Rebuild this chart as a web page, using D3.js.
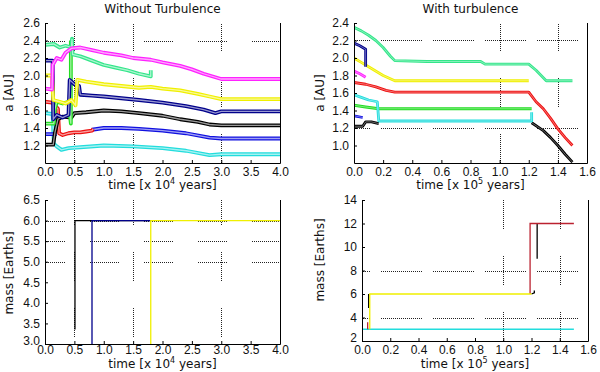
<!DOCTYPE html>
<html lang="en">
<head>
<meta charset="UTF-8">
<title>Planet migration with and without turbulence</title>
<script src="https://cdn.jsdelivr.net/npm/d3@7"></script>
<style>
    body { margin: 0; background: white; }
    svg { display: block; font-family: "DejaVu Sans", sans-serif; }
    .tick text { font-size: 12px; fill: #111; }
    .tick line { stroke: #000; }
    .title, .label { font-size: 12px; fill: #111; }
</style>
</head>
<body>
<svg id="chart" width="600" height="372"></svg>
<script>
// tick values
const timeTicksLeft = [0, 0.5, 1.0, 1.5, 2.0, 2.5, 3.0, 3.5, 4.0]
const timeTicksRight = [0, 0.2, 0.4, 0.6, 0.8, 1.0, 1.2, 1.4, 1.6]
const aTicksLeft = [1.2, 1.4, 1.6, 1.8, 2.0, 2.2, 2.4, 2.6]
const aTicksRight = [1.0, 1.2, 1.4, 1.6, 1.8, 2.0, 2.2, 2.4]
const massTicksLeft = [3.0, 3.5, 4.0, 4.5, 5.0, 5.5, 6.0, 6.5]
const massTicksRight = [2, 4, 6, 8, 10, 12, 14]

// semi-major axis, [time, a], no turbulence (null = gap)
const ntMagenta = [[0,1.85],[0.12,1.84],[0.13,2.12],[0.2,2.2],[0.28,2.18],[0.35,2.26],[0.45,2.31],[0.6,2.32],[0.8,2.29],[1.0,2.26],[1.3,2.23],[1.5,2.2],[1.8,2.18],[2.0,2.15],[2.3,2.11],[2.5,2.07],[2.7,2.02],[2.9,1.98],[3.0,1.96],[4.0,1.96]]
const ntSpring = [[0,2.35],[0.15,2.36],[0.25,2.32],[0.35,2.34],[0.45,2.32],[0.46,2.42],[0.47,2.24],[0.6,2.22],[0.8,2.17],[1.0,2.12],[1.2,2.09],[1.4,2.06],[1.6,2.02],[1.8,1.99],[1.8,2.06]]
const ntGreen = [[0,1.45],[0.15,1.45],[0.17,1.62],[0.2,1.7],[0.3,1.68],[0.4,1.7],[0.44,1.45],[0.44,2.4]]
const ntYellow = [[0,2.0],[0.12,2.0],[0.14,1.72],[0.25,1.7],[0.35,1.68],[0.45,1.72],[0.52,1.66],[0.55,1.95],[0.7,1.93],[1.0,1.9],[1.3,1.88],[1.6,1.86],[1.8,1.87],[2.0,1.85],[2.3,1.83],[2.6,1.79],[2.8,1.76],[3.0,1.73],[4.0,1.73]]
const ntNavy = [[0,2.17],[0.13,2.17],[0.14,1.5],[0.2,1.55],[0.3,1.52],[0.4,1.55],[0.42,1.95],[0.5,1.9],[0.58,1.88],[0.6,1.78],[0.8,1.77],[1.0,1.76],[1.3,1.74],[1.6,1.72],[2.0,1.69],[2.4,1.65],[2.7,1.61],[2.9,1.57],[3.0,1.59],[4.0,1.59]]
const ntBlue = [[0,1.33],[0.2,1.33],null,[0.8,1.38],[1.0,1.4],[1.3,1.4],[1.6,1.39],[2.0,1.37],[2.4,1.34],[2.8,1.29],[3.0,1.28],[4.0,1.28]]
const ntBlack = [[0,1.21],[0.14,1.21],[0.17,1.35],[0.22,1.5],[0.3,1.53],[0.45,1.52],[0.5,1.57],[0.7,1.58],[1.0,1.6],[1.3,1.59],[1.6,1.57],[2.0,1.54],[2.3,1.5],[2.6,1.47],[2.8,1.44],[3.0,1.43],[4.0,1.43]]
const ntRed = [[0,1.7],[0.12,1.69],[0.18,1.65],[0.22,1.62],[0.24,1.34],[0.3,1.32],[0.4,1.34],[0.5,1.35],[0.6,1.35],[0.7,1.36],[0.8,1.37],[0.82,1.39]]
const ntCyan = [[0,1.57],[0.13,1.56],[0.15,1.22],[0.2,1.19],[0.28,1.15],[0.4,1.17],[0.6,1.18],[1.0,1.2],[1.5,1.19],[2.0,1.17],[2.4,1.14],[2.8,1.09],[3.0,1.1],[4.0,1.1]]

// semi-major axis, [time, a], with turbulence
const tuSpring = [[0,2.35],[0.05,2.31],[0.1,2.26],[0.15,2.2],[0.2,2.12],[0.25,2.02],[0.28,1.97],[0.5,1.96],[0.87,1.96],[0.9,1.93],[1.2,1.93],[1.25,1.86],[1.32,1.74],[1.5,1.74]]
const tuNavy = [[0,2.17],[0.04,2.14],[0.08,2.1],[0.08,1.9]]
const tuYellow = [[0,2.0],[0.05,1.95],[0.1,1.9],[0.2,1.8],[0.28,1.74],[1.2,1.74]]
const tuMagenta = [[0,1.85],[0.04,1.82],[0.08,1.78]]
const tuRed = [[0,1.72],[0.08,1.7],[0.15,1.67],[0.22,1.63],[0.28,1.61],[1.2,1.61],[1.25,1.5],[1.3,1.42],[1.35,1.31],[1.4,1.19],[1.45,1.09],[1.5,1.0]]
const tuCyan = [[0,1.58],[0.05,1.55],[0.1,1.52],[0.16,1.5],[0.17,1.28],[0.4,1.28],[1.22,1.28],[1.22,1.38]]
const tuGreen = [[0,1.46],[0.08,1.44],[0.17,1.42],[0.3,1.42],[1.22,1.42]]
const tuBlue = [[0,1.34],[0.06,1.32]]
const tuBlack = [[0,1.22],[0.06,1.22],[0.08,1.27],[0.12,1.27],[0.17,1.25],null,[1.22,1.26],[1.3,1.17],[1.35,1.09],[1.4,1.0],[1.45,0.9],[1.5,0.81]]

// planet mass, [time, mass]
const ntMassBlack = [[0.51,3.35],[0.51,6.0],[1.8,6.0]]
const ntMassNavy = [[0.8,3.0],[0.8,6.0],[1.8,6.0]]
const ntMassYellow = [[1.8,3.0],[1.8,6.0],[4.0,6.0]]
const tuMassCyan = [[0,3],[1.5,3]]
const tuMassRed = [[0.04,3.0],[0.04,3.6],null,[1.19,6.0],[1.19,12.0],[1.5,12.0]]
const tuMassBlack = [[0.047,4.8],[0.047,6.0],null,[1.2,6.0],[1.22,6.1],[1.22,6.3],null,[1.24,9.0],[1.24,12.0]]
const tuMassYellow = [[0.055,3.0],[0.055,6.0],[1.2,6.0]]

const col = {
    magenta: "#ff22ff", spring: "#33e68a", green: "#22dd22", yellow: "#f0f000",
    navy: "#00008b", blue: "#1010e0", black: "#000", red: "#ee1111",
    cyan: "#22dddd", darkred: "#bb2230"
}

const panels = [
    {
        title: "Without Turbulence", x0: 45, x1: 280, y0: 23, y1: 163,
        xDomain: [0, 4], yDomain: [1.0, 2.6], xTicks: timeTicksLeft, yTicks: aTicksLeft,
        yFmt: ".1f", ylabel: "a [AU]", exp: "4", ylabX: 13, ylabY: 93, xtBase: 176, xlBase: 189,
        vGrid: [0.5, 1.5, 3.0], hGrid: [2.4], hPat: [30, 24, 36], vPat: [30, 26, 0],
        band: 3.8, inner: 1.3, innerOp: 0.6,
        series: [
            [ntCyan, col.cyan], [ntBlue, col.blue], [ntRed, col.red], [ntBlack, col.black],
            [ntGreen, col.green], [ntNavy, col.navy], [ntYellow, col.yellow],
            [ntSpring, col.spring], [ntMagenta, col.magenta]
        ]
    },
    {
        title: "With turbulence", x0: 354, x1: 587, y0: 23, y1: 163,
        xDomain: [0, 1.6], yDomain: [0.8, 2.4], xTicks: timeTicksRight, yTicks: aTicksRight,
        yFmt: ".1f", ylabel: "a [AU]", exp: "5", ylabX: 324, ylabY: 93, xtBase: 176, xlBase: 189,
        vGrid: [1.0, 1.4], hGrid: [2.2, 1.2], hPat: [43, 10, 382], vPat: [30, 26, 0],
        band: 2.8, inner: 0.9, innerOp: 0.45,
        series: [
            [tuBlack, col.black], [tuBlue, col.blue], [tuGreen, col.green], [tuCyan, col.cyan],
            [tuRed, col.red], [tuMagenta, col.magenta], [tuYellow, col.yellow],
            [tuNavy, col.navy], [tuSpring, col.spring]
        ]
    },
    {
        x0: 45, x1: 280, y0: 200, y1: 344,
        xDomain: [0, 4], yDomain: [3, 6.5], xTicks: timeTicksLeft, yTicks: massTicksLeft,
        yFmt: ".1f", ylabel: "mass [Earths]", exp: "4", ylabX: 13, ylabY: 273, xtBase: 354, xlBase: 368,
        vGrid: [0.5, 1.5, 3.0], hGrid: [6.0, 5.5, 5.0], hPat: [30, 24, 36], vPat: [30, 26, 49],
        series: [
            [ntMassBlack, col.black], [ntMassNavy, col.navy], [ntMassYellow, col.yellow]
        ]
    },
    {
        x0: 362, x1: 588, y0: 200, y1: 341,
        xDomain: [0, 1.6], yDomain: [2, 14], xTicks: timeTicksRight, yTicks: massTicksRight,
        yFmt: "d", ylabel: "mass [Earths]", exp: "5", ylabX: 324, ylabY: 260, xtBase: 354, xlBase: 368,
        vGrid: [1.0, 1.4], hGrid: [8, 4], hPat: [43, 10, 382], vPat: [30, 26, 0],
        series: [
            [tuMassCyan, col.cyan], [tuMassBlack, col.black], [tuMassRed, col.darkred],
            [tuMassYellow, col.yellow]
        ]
    }
]

const svg = d3.select("#chart")

// fine dotted dash of `seg` px followed by a blank of `gap` px
function dotDash(seg, gap) {
    let a = []
    for (let i = 0; i < Math.floor(seg / 2); i++) a.push(1, 1)
    a[a.length - 1] += gap
    return a.join(" ")
}

function drawPanel(p) {
    const g = svg.append("g")
    const x = d3.scaleLinear().domain(p.xDomain).range([p.x0, p.x1])
    const y = d3.scaleLinear().domain(p.yDomain).range([p.y1, p.y0])

    // grid
    const hPeriod = p.hPat[0] + p.hPat[1]
    const hOff = (((p.x0 - p.hPat[2]) % hPeriod) + hPeriod) % hPeriod
    g.append("g").selectAll("line").data(p.hGrid).join("line")
        .attr("x1", p.x0).attr("x2", p.x1)
        .attr("y1", d => Math.round(y(d)) + 0.5).attr("y2", d => Math.round(y(d)) + 0.5)
        .attr("stroke", "#222").attr("stroke-width", 1)
        .attr("stroke-dasharray", dotDash(p.hPat[0], p.hPat[1]))
        .attr("stroke-dashoffset", hOff)
    g.append("g").selectAll("line").data(p.vGrid).join("line")
        .attr("x1", d => Math.round(x(d)) + 0.5).attr("x2", d => Math.round(x(d)) + 0.5)
        .attr("y1", p.y1).attr("y2", p.y0)
        .attr("stroke", "#222").attr("stroke-width", 1)
        .attr("stroke-dasharray", dotDash(p.vPat[0], p.vPat[1]))
        .attr("stroke-dashoffset", p.vPat[2])

    // data
    const line = d3.line().defined(d => d !== null).x(d => x(d[0])).y(d => y(d[1]))
    const clipId = "clip" + p.x0 + p.y0
    svg.append("clipPath").attr("id", clipId).append("rect")
        .attr("x", p.x0).attr("y", p.y0 - 2).attr("width", p.x1 - p.x0).attr("height", p.y1 - p.y0 + 2)
    const lines = g.append("g").attr("clip-path", `url(#${clipId})`)
    p.series.forEach(([data, c]) => {
        if (p.band) {
            lines.append("path").attr("d", line(data)).attr("fill", "none")
                .attr("stroke", c).attr("stroke-width", p.band).attr("stroke-linejoin", "round")
            lines.append("path").attr("d", line(data)).attr("fill", "none")
                .attr("stroke", "white").attr("stroke-opacity", p.innerOp).attr("stroke-width", p.inner)
        } else {
            lines.append("path").attr("d", line(data)).attr("fill", "none")
                .attr("stroke", c).attr("stroke-width", 1.3)
        }
    })

    // axes
    g.append("g").attr("transform", `translate(0,${p.y1})`)
        .call(d3.axisBottom(x).tickValues(p.xTicks).tickFormat(d3.format(".1f")).tickSize(-3).tickPadding(6))
        .call(a => a.select(".domain").remove())
        .call(a => a.selectAll("text").attr("y", p.xtBase - p.y1).attr("dy", null))
    g.append("g").attr("transform", `translate(${p.x0},0)`)
        .call(d3.axisLeft(y).tickValues(p.yTicks).tickFormat(d3.format(p.yFmt)).tickSize(-3).tickPadding(5))
        .call(a => a.select(".domain").remove())
        // lift the lowest label a little off the time labels below it
        .call(a => a.selectAll(".tick text").filter(d => d === p.yDomain[0]).attr("dy", "0.05em"))
    g.selectAll(".tick text").attr("font-family", null).attr("font-size", null)

    // frame: left, bottom, right
    g.append("path")
        .attr("d", `M${p.x0 + 0.5},${p.y0}V${p.y1 + 0.5}H${p.x1 + 0.5}V${p.y0}`)
        .attr("fill", "none").attr("stroke", "#000").attr("stroke-width", 1)

    // labels
    if (p.title) {
        g.append("text").attr("class", "title")
            .attr("x", (p.x0 + p.x1) / 2).attr("y", 13)
            .attr("text-anchor", "middle").text(p.title)
    }
    const xl = g.append("text").attr("class", "label")
        .attr("x", (p.x0 + p.x1) / 2).attr("y", p.xlBase).attr("text-anchor", "middle")
    xl.append("tspan").text("time [x 10")
    xl.append("tspan").attr("font-size", "8px").attr("dy", -5).text(p.exp)
    xl.append("tspan").attr("dy", 5).text(" years]")
    g.append("text").attr("class", "label")
        .attr("transform", `translate(${p.ylabX},${p.ylabY}) rotate(-90)`)
        .attr("text-anchor", "middle").text(p.ylabel)
}

panels.forEach(drawPanel)
</script>
</body>
</html>
